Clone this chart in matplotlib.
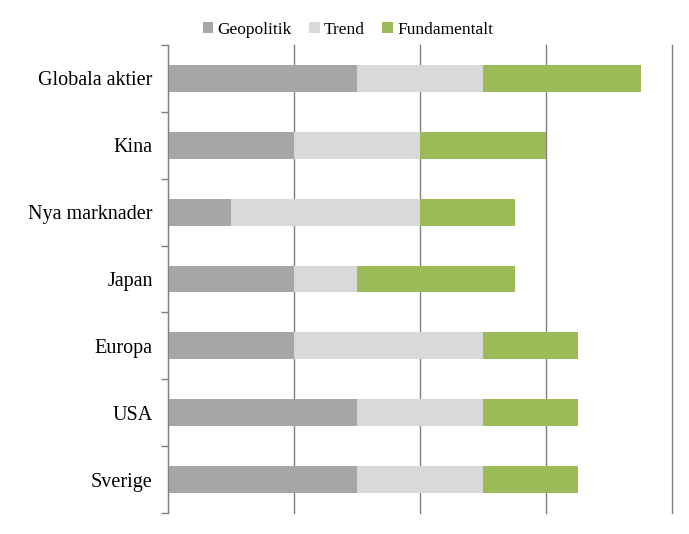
import matplotlib
matplotlib.use("Agg")
from matplotlib import pyplot as plt
import numpy as np

plt.rcParams['font.family'] = ['Liberation Serif', 'DejaVu Serif']

categories = ["Globala aktier", "Kina", "Nya marknader", "Japan", "Europa", "USA", "Sverige"]
geopolitik = [3, 2, 1, 2, 2, 3, 3]
trend = [2, 2, 3, 1, 3, 2, 2]
fundamentalt = [2.5, 2, 1.5, 2.5, 1.5, 1.5, 1.5]
series_names = ["Geopolitik", "Trend", "Fundamentalt"]
colors = ["#A6A6A6", "#D9D9D9", "#9BBB59"]

fig = plt.figure(figsize=(6.89, 5.34), dpi=100)
ax = fig.add_axes([168/689, 1 - 513/534, (672 - 168)/689, (513 - 45)/534])

y = np.arange(len(categories))
left = np.zeros(len(categories))
for vals, name, col in zip([geopolitik, trend, fundamentalt], series_names, colors):
  ax.barh(y, vals, left=left, height=0.4, color=col, label=name, zorder=2)
  left += np.array(vals)

ax.set_xlim(0, 8)
ax.set_ylim(len(categories) - 0.5, -0.5)
ax.set_xticks([0, 2, 4, 6, 8])
ax.xaxis.grid(True, color="#808080", linewidth=1, zorder=0)
for gl in ax.get_xgridlines():
  gl.set_clip_on(False)
ax.tick_params(axis='x', length=0, labelbottom=False)

# category labels without ticks, ticks at boundaries
ax.set_yticks(y)
ax.set_yticklabels(categories, fontsize=14.5)
ax.tick_params(axis='y', which='major', length=0, pad=11)
ax.set_yticks(np.arange(-0.5, len(categories)), minor=True)
ax.tick_params(axis='y', which='minor', length=5, color="#808080", width=1)

for s in ['top', 'right', 'bottom']:
  ax.spines[s].set_visible(False)
ax.spines['left'].set_color("#808080")

ax.legend(loc='lower center', bbox_to_anchor=(0.357, 1.0), ncol=3, frameon=False,
          fontsize=12.5, handlelength=0.6, handleheight=0.6, handletextpad=0.25,
          columnspacing=1.0, borderaxespad=0.0)

fig.savefig("out.png", dpi=100)
